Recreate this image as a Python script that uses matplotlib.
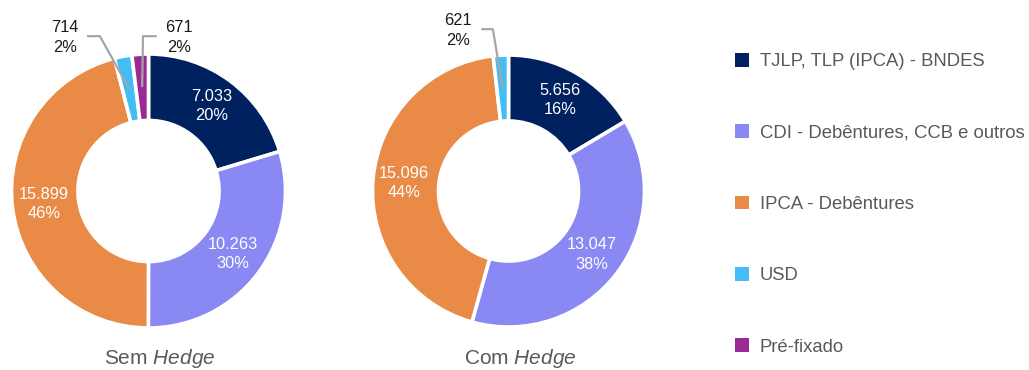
import matplotlib
matplotlib.use("Agg")
import matplotlib.pyplot as plt
import numpy as np
from matplotlib.patches import Rectangle

plt.rcParams['font.family'] = ['Liberation Sans', 'DejaVu Sans']
plt.rcParams['mathtext.fontset'] = 'custom'
plt.rcParams['mathtext.rm'] = 'Liberation Sans'
plt.rcParams['mathtext.it'] = 'Liberation Sans:italic'

# ---- data ----
categories = ["TJLP, TLP (IPCA) - BNDES", "CDI - Debêntures, CCB e outros",
              "IPCA - Debêntures", "USD", "Pré-fixado"]
colors = ["#00215F", "#8A88F2", "#E98B47", "#43BDF6", "#9B2B94"]
sem_hedge = [7033, 10263, 15899, 714, 671]
com_hedge = [5656, 13047, 15096, 621, 0]
titles = ["Sem $\\mathit{Hedge}$", "Com $\\mathit{Hedge}$"]

W, H = 1029, 370
fig = plt.figure(figsize=(W / 100, H / 100), dpi=100)


def fmt_num(v):
    return f"{v:,}".replace(",", ".")


def donut(cx, cy, r, values, outside_layout, title, title_x):
    ax = fig.add_axes([(cx - r) / W, (H - cy - r) / H, 2 * r / W, 2 * r / H])
    vals = [v for v in values if v > 0]
    cols = [c for v, c in zip(values, colors) if v > 0]
    total = sum(vals)
    wedges, _ = ax.pie(vals, colors=cols, startangle=90, counterclock=False,
                       radius=1.0,
                       wedgeprops=dict(width=0.485, edgecolor='white', linewidth=2.6))
    ax.set_xlim(-1, 1)
    ax.set_ylim(-1, 1)
    ax.set_aspect('equal')
    ax.axis('off')
    oi = 0
    for w, v in zip(wedges, vals):
        pct = round(v / total * 100)
        ang = np.deg2rad((w.theta1 + w.theta2) / 2)
        lab = f"{fmt_num(v)}\n{pct}%"
        if v / total >= 0.05:
            rr = 0.77
            ax.text(rr * np.cos(ang), rr * np.sin(ang), lab, ha='center', va='center',
                    color='white', fontsize=11.8, linespacing=1.35)
        else:
            rr = 0.76
            px, py = rr * np.cos(ang), rr * np.sin(ang)
            tx, ty, sx, ex = outside_layout[oi]
            oi += 1
            ax.text(tx, ty, lab, ha='center', va='center', color='#1a1a1a',
                    fontsize=11.8, linespacing=1.35)
            ax.plot([sx, ex, px], [ty + 0.01, ty + 0.01, py], color='#A6A6A6',
                    lw=1.6, clip_on=False, solid_capstyle='butt')
    fig.text(title_x / W, 1 - 358 / H, title, ha='center', va='center',
             fontsize=15, color='#595959')


# layout of the small outside labels: (text x, text y, line start x, elbow x) in donut units
left_layout = [(-0.61, 1.12, -0.45, -0.355), (0.22, 1.12, 0.06, -0.04)]
right_layout = [(-0.37, 1.18, -0.2, -0.115)]

donut(148.5, 191, 137, sem_hedge, left_layout, titles[0], 160)
donut(508.5, 191, 136, com_hedge, right_layout, titles[1], 520)

# legend
handles = [Rectangle((0, 0), 1, 1, facecolor=c, edgecolor='none') for c in colors]
leg = fig.legend(handles, categories, loc='upper left',
                 bbox_to_anchor=(735 / W, 1 - 53 / H), frameon=False,
                 fontsize=13.3, labelcolor='#595959', handlelength=0.75,
                 handleheight=0.75, handletextpad=0.6, labelspacing=2.93,
                 borderaxespad=0, borderpad=0)

fig.savefig("out.png", dpi=100)
